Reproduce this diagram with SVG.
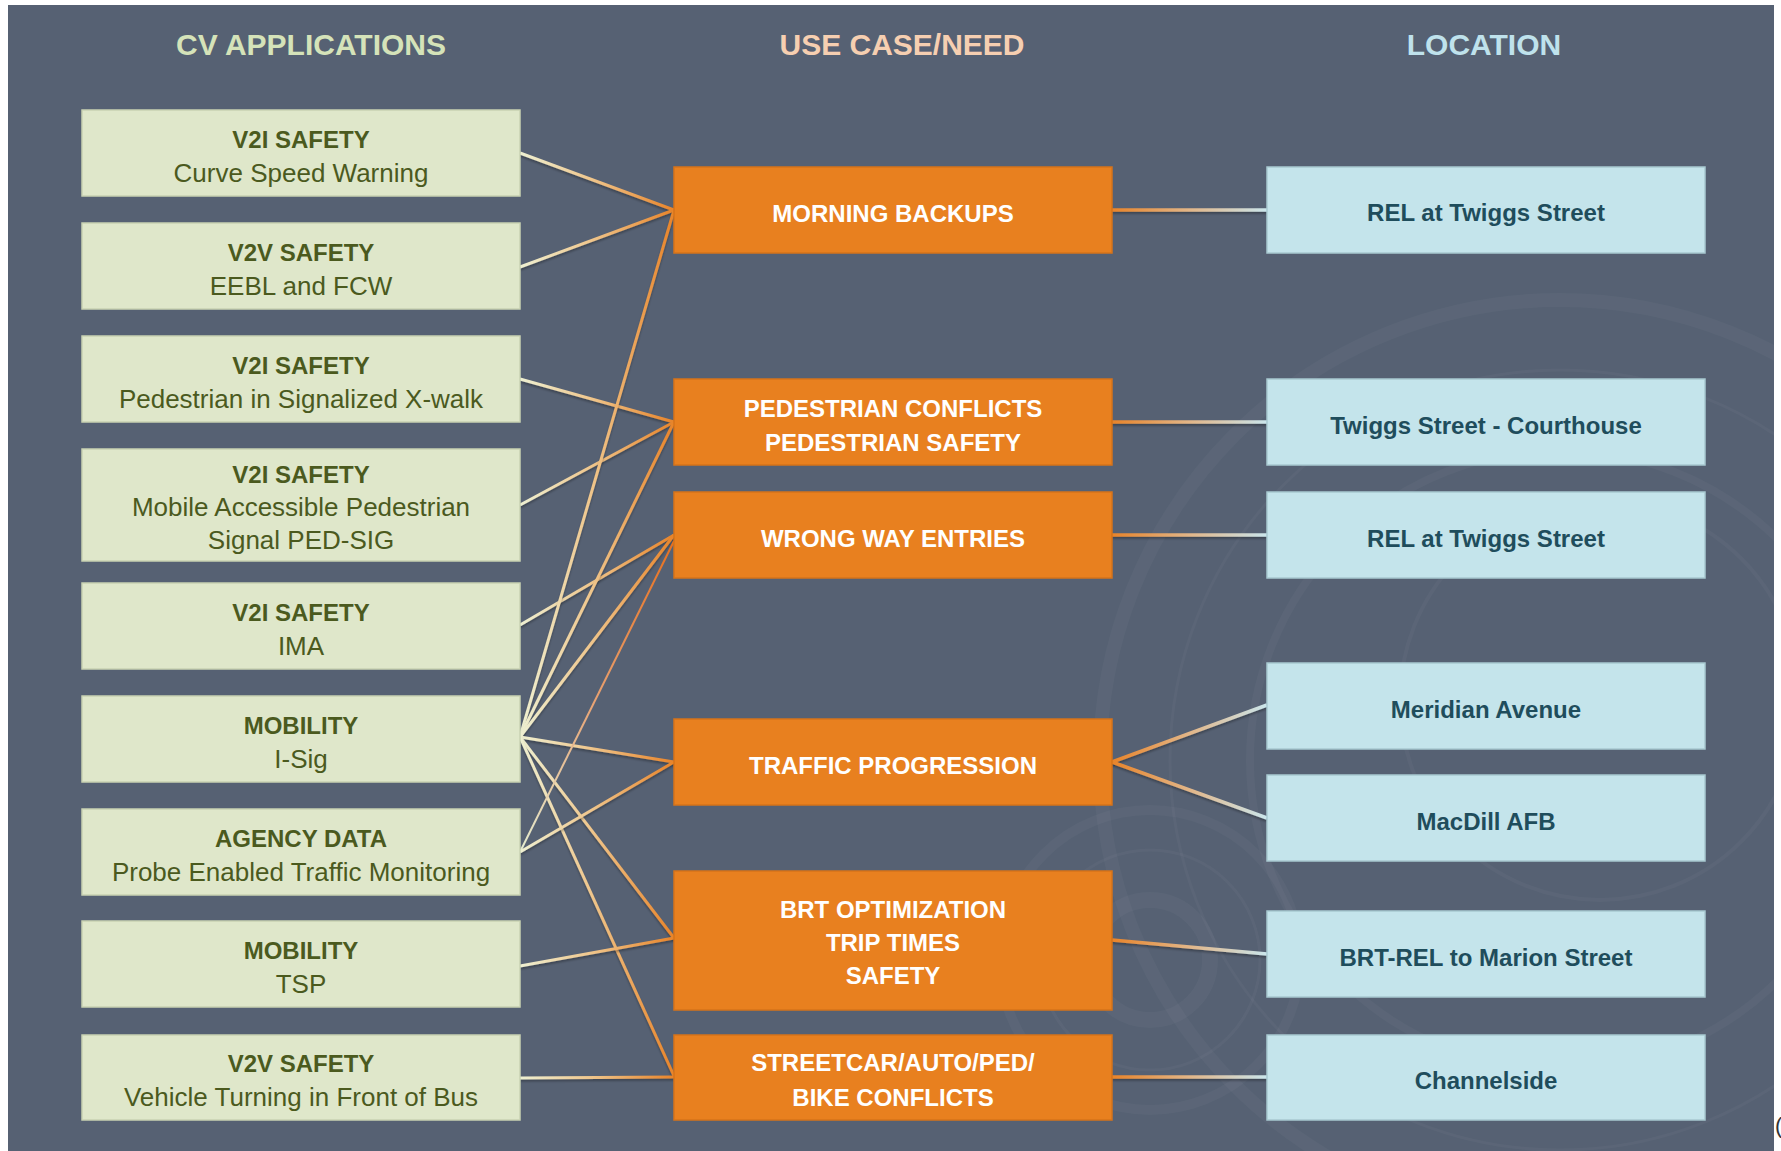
<svg xmlns="http://www.w3.org/2000/svg" width="1781" height="1151" viewBox="0 0 1781 1151">
  <style>
    .hdr { font-family: "Liberation Sans", Arial, sans-serif; font-weight: bold; font-size: 30px; text-anchor: middle; }
    .app { fill: #dfe7ca; stroke: #c9d2b2; stroke-width: 1.5; }
    .need { fill: #e8801f; stroke: #d6731a; stroke-width: 1.5; }
    .loc { fill: #c4e4eb; stroke: #a8c9d1; stroke-width: 1.5; }
    .t1 { font-family: "Liberation Sans", Arial, sans-serif; font-weight: bold; font-size: 24px; fill: #4b5a1e; text-anchor: middle; }
    .t2 { font-family: "Liberation Sans", Arial, sans-serif; font-size: 26px; fill: #4b5a1e; text-anchor: middle; }
    .tn { font-family: "Liberation Sans", Arial, sans-serif; font-weight: bold; font-size: 24px; fill: #ffffff; text-anchor: middle; }
    .tl { font-family: "Liberation Sans", Arial, sans-serif; font-weight: bold; font-size: 24px; fill: #1f4d5c; text-anchor: middle; }
    .cl { fill: none; stroke: url(#gl); stroke-width: 3; filter: url(#sh); }
    .cr { fill: none; stroke: url(#gr); stroke-width: 3.5; filter: url(#sh); }
    .deco { fill: none; stroke: #ffffff; stroke-opacity: 0.03; }
  </style>
  <defs>
    <linearGradient id="gl" gradientUnits="userSpaceOnUse" x1="520" y1="0" x2="674" y2="0">
      <stop offset="0" stop-color="#eef0d2"/>
      <stop offset="0.45" stop-color="#efc78e"/>
      <stop offset="1" stop-color="#e8842a"/>
    </linearGradient>
    <linearGradient id="gr" gradientUnits="userSpaceOnUse" x1="1112" y1="0" x2="1267" y2="0">
      <stop offset="0" stop-color="#e8842a"/>
      <stop offset="0.5" stop-color="#e2b688"/>
      <stop offset="1" stop-color="#cbe6ec"/>
    </linearGradient>
    <linearGradient id="gthin" gradientUnits="userSpaceOnUse" x1="520" y1="852" x2="674" y2="541">
      <stop offset="0" stop-color="#e4ecd0"/>
      <stop offset="0.5" stop-color="#e8a070"/>
      <stop offset="1" stop-color="#e8701e"/>
    </linearGradient>
    <filter id="sh" filterUnits="userSpaceOnUse" x="0" y="0" width="1781" height="1151">
      <feDropShadow dx="0" dy="2" stdDeviation="1.2" flood-color="#000000" flood-opacity="0.3"/>
    </filter>
    <clipPath id="panelclip">
      <rect x="8" y="5" width="1766" height="1146"/>
    </clipPath>
  </defs>

  <rect x="0" y="0" width="1781" height="1151" fill="#ffffff"/>
  <rect x="8" y="5" width="1766" height="1146" fill="#566173"/>

  <g id="background-decoration" clip-path="url(#panelclip)">
    <circle class="deco" cx="1560" cy="760" r="460" stroke-width="14"/>
    <circle class="deco" cx="1560" cy="760" r="390" stroke-width="3"/>
    <circle class="deco" cx="1560" cy="760" r="310" stroke-width="8"/>
    <circle class="deco" cx="1600" cy="700" r="200" stroke-width="4"/>
    <circle class="deco" cx="1150" cy="960" r="150" stroke-width="10"/>
    <circle class="deco" cx="1150" cy="960" r="110" stroke-width="3"/>
    <circle class="deco" cx="1150" cy="960" r="60" stroke-width="16"/>
  </g>

  <g id="headers">
    <text class="hdr" x="311" y="55" fill="#d5e3b9">CV APPLICATIONS</text>
    <text class="hdr" x="902" y="55" fill="#f6cfb1">USE CASE/NEED</text>
    <text class="hdr" x="1484" y="55" fill="#bfe2ec">LOCATION</text>
  </g>

  <g id="connectors">
    <line class="cl" x1="520" y1="153" x2="674" y2="210"/>
    <line class="cl" x1="520" y1="267" x2="674" y2="210"/>
    <line class="cl" x1="520" y1="379" x2="674" y2="422"/>
    <line class="cl" x1="520" y1="505" x2="674" y2="422"/>
    <line class="cl" x1="520" y1="625" x2="674" y2="535"/>
    <line class="cl" x1="520" y1="737" x2="674" y2="210"/>
    <line class="cl" x1="520" y1="737" x2="674" y2="422"/>
    <line class="cl" x1="520" y1="737" x2="674" y2="535"/>
    <line class="cl" x1="520" y1="737" x2="674" y2="762"/>
    <line class="cl" x1="520" y1="737" x2="674" y2="938"/>
    <line class="cl" x1="520" y1="737" x2="674" y2="1076"/>
    <line x1="520" y1="852" x2="674" y2="541" fill="none" stroke="url(#gthin)" stroke-width="2"/>
    <line class="cl" x1="520" y1="852" x2="674" y2="762"/>
    <line class="cl" x1="520" y1="966" x2="674" y2="938"/>
    <line class="cl" x1="520" y1="1078" x2="674" y2="1077"/>
    <line class="cr" x1="1112" y1="210" x2="1267" y2="210"/>
    <line class="cr" x1="1112" y1="422" x2="1267" y2="422"/>
    <line class="cr" x1="1112" y1="535" x2="1267" y2="535"/>
    <line class="cr" x1="1112" y1="762" x2="1267" y2="705"/>
    <line class="cr" x1="1112" y1="762" x2="1267" y2="818"/>
    <line class="cr" x1="1112" y1="940" x2="1267" y2="954"/>
    <line class="cr" x1="1112" y1="1077" x2="1267" y2="1077"/>
  </g>

  <g id="app-curve-speed">
    <rect class="app" x="82" y="110" width="438" height="86"/>
    <text class="t1" x="301" y="148">V2I SAFETY</text>
    <text class="t2" x="301" y="182">Curve Speed Warning</text>
  </g>
  <g id="app-eebl">
    <rect class="app" x="82" y="223" width="438" height="86"/>
    <text class="t1" x="301" y="261">V2V SAFETY</text>
    <text class="t2" x="301" y="295">EEBL and FCW</text>
  </g>
  <g id="app-ped-xwalk">
    <rect class="app" x="82" y="336" width="438" height="86"/>
    <text class="t1" x="301" y="374">V2I SAFETY</text>
    <text class="t2" x="301" y="408">Pedestrian in Signalized X-walk</text>
  </g>
  <g id="app-ped-sig">
    <rect class="app" x="82" y="449" width="438" height="112"/>
    <text class="t1" x="301" y="483">V2I SAFETY</text>
    <text class="t2" x="301" y="516">Mobile Accessible Pedestrian</text>
    <text class="t2" x="301" y="549">Signal PED-SIG</text>
  </g>
  <g id="app-ima">
    <rect class="app" x="82" y="583" width="438" height="86"/>
    <text class="t1" x="301" y="621">V2I SAFETY</text>
    <text class="t2" x="301" y="655">IMA</text>
  </g>
  <g id="app-isig">
    <rect class="app" x="82" y="696" width="438" height="86"/>
    <text class="t1" x="301" y="734">MOBILITY</text>
    <text class="t2" x="301" y="768">I-Sig</text>
  </g>
  <g id="app-agency">
    <rect class="app" x="82" y="809" width="438" height="86"/>
    <text class="t1" x="301" y="847">AGENCY DATA</text>
    <text class="t2" x="301" y="881">Probe Enabled Traffic Monitoring</text>
  </g>
  <g id="app-tsp">
    <rect class="app" x="82" y="921" width="438" height="86"/>
    <text class="t1" x="301" y="959">MOBILITY</text>
    <text class="t2" x="301" y="993">TSP</text>
  </g>
  <g id="app-bus">
    <rect class="app" x="82" y="1035" width="438" height="85"/>
    <text class="t1" x="301" y="1072">V2V SAFETY</text>
    <text class="t2" x="301" y="1106">Vehicle Turning in Front of Bus</text>
  </g>

  <g id="need-morning">
    <rect class="need" x="674" y="167" width="438" height="86"/>
    <text class="tn" x="893" y="222">MORNING BACKUPS</text>
  </g>
  <g id="need-ped">
    <rect class="need" x="674" y="379" width="438" height="86"/>
    <text class="tn" x="893" y="417">PEDESTRIAN CONFLICTS</text>
    <text class="tn" x="893" y="451">PEDESTRIAN SAFETY</text>
  </g>
  <g id="need-wrongway">
    <rect class="need" x="674" y="492" width="438" height="86"/>
    <text class="tn" x="893" y="547">WRONG WAY ENTRIES</text>
  </g>
  <g id="need-traffic">
    <rect class="need" x="674" y="719" width="438" height="86"/>
    <text class="tn" x="893" y="774">TRAFFIC PROGRESSION</text>
  </g>
  <g id="need-brt">
    <rect class="need" x="674" y="871" width="438" height="139"/>
    <text class="tn" x="893" y="918">BRT OPTIMIZATION</text>
    <text class="tn" x="893" y="951">TRIP TIMES</text>
    <text class="tn" x="893" y="984">SAFETY</text>
  </g>
  <g id="need-streetcar">
    <rect class="need" x="674" y="1035" width="438" height="85"/>
    <text class="tn" x="893" y="1071">STREETCAR/AUTO/PED/</text>
    <text class="tn" x="893" y="1106">BIKE CONFLICTS</text>
  </g>

  <g id="loc-rel-1">
    <rect class="loc" x="1267" y="167" width="438" height="86"/>
    <text class="tl" x="1486" y="221">REL at Twiggs Street</text>
  </g>
  <g id="loc-courthouse">
    <rect class="loc" x="1267" y="379" width="438" height="86"/>
    <text class="tl" x="1486" y="434">Twiggs Street - Courthouse</text>
  </g>
  <g id="loc-rel-2">
    <rect class="loc" x="1267" y="492" width="438" height="86"/>
    <text class="tl" x="1486" y="547">REL at Twiggs Street</text>
  </g>
  <g id="loc-meridian">
    <rect class="loc" x="1267" y="663" width="438" height="86"/>
    <text class="tl" x="1486" y="718">Meridian Avenue</text>
  </g>
  <g id="loc-macdill">
    <rect class="loc" x="1267" y="775" width="438" height="86"/>
    <text class="tl" x="1486" y="830">MacDill AFB</text>
  </g>
  <g id="loc-brt-rel">
    <rect class="loc" x="1267" y="911" width="438" height="86"/>
    <text class="tl" x="1486" y="966">BRT-REL to Marion Street</text>
  </g>
  <g id="loc-channelside">
    <rect class="loc" x="1267" y="1035" width="438" height="85"/>
    <text class="tl" x="1486" y="1089">Channelside</text>
  </g>

  <text x="1775" y="1133" font-family="Liberation Sans, Arial, sans-serif" font-size="22" fill="#333333">(</text>
</svg>
